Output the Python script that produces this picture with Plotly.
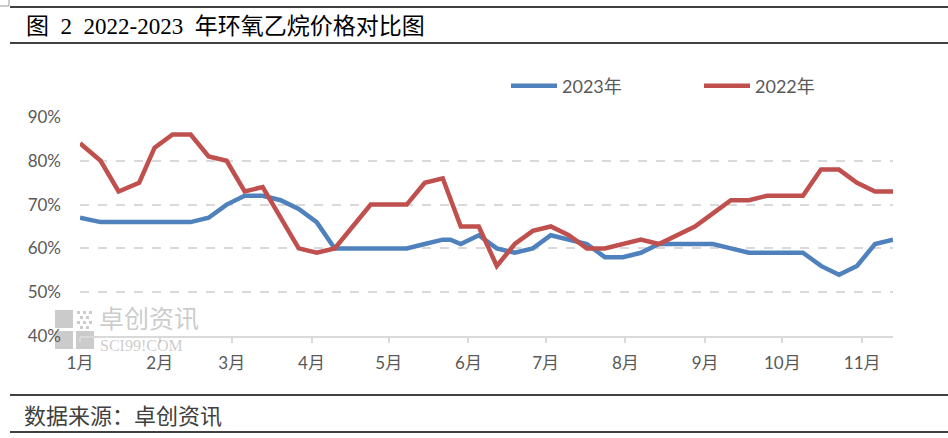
import plotly.graph_objects as go

# ---------------- data ----------------
dates = ["2023-01-01", "2023-01-09", "2023-01-16", "2023-01-24", "2023-01-30",
         "2023-02-06", "2023-02-13", "2023-02-20", "2023-02-27", "2023-03-06",
         "2023-03-13", "2023-03-20", "2023-03-27", "2023-04-03", "2023-04-10",
         "2023-04-17", "2023-04-24", "2023-05-01", "2023-05-08", "2023-05-15",
         "2023-05-22", "2023-05-25", "2023-05-29", "2023-06-05", "2023-06-12",
         "2023-06-19", "2023-06-26", "2023-07-03", "2023-07-10", "2023-07-17",
         "2023-07-24", "2023-07-31", "2023-08-07", "2023-08-14", "2023-08-21",
         "2023-08-28", "2023-09-04", "2023-09-11", "2023-09-18", "2023-09-25",
         "2023-10-02", "2023-10-09", "2023-10-16", "2023-10-23", "2023-10-30",
         "2023-11-06", "2023-11-13"]

values_2023 = [67, 66, 66, 66, 66, 66, 66, 67, 70, 72,
               72, 71, 69, 66, 60, 60, 60, 60, 60, 61,
               62, 62, 61, 63, 60, 59, 60, 63, 62, 61,
               58, 58, 59, 61, 61, 61, 61, 60, 59, 59,
               59, 59, 56, 54, 56, 61, 62]

values_2022 = [84, 80, 73, 75, 83, 86, 86, 81, 80, 73,
               74, 67, 60, 59, 60, 65, 70, 70, 70, 75,
               76, None, 65, 65, 56, 61, 64, 65, 63, 60,
               60, 61, 62, 61, 63, 65, 68, 71, 71, 72,
               72, 72, 78, 78, 75, 73, 73]

month_ticks = ["2023-01-01", "2023-02-01", "2023-03-01", "2023-04-01", "2023-05-01",
               "2023-06-01", "2023-07-01", "2023-08-01", "2023-09-01", "2023-10-01",
               "2023-11-01"]
month_labels = ["1月", "2月", "3月", "4月", "5月", "6月", "7月", "8月", "9月", "10月", "11月"]

series_names = ["2023年", "2022年"]
NB = "\u00a0"
title_text = "图" + NB * 2 + "2" + NB * 2 + "2022-2023" + NB * 2 + "年环氧乙烷价格对比图"
source_text = "数据来源：卓创资讯"

# ---------------- layout geometry ----------------
W, H = 948, 438
L, R, T, B = 80, 893, 117, 336


def px(x):
    return (x - L) / (R - L)


def py(y):
    return (B - y) / (B - T)


BLUE = "#4F81BD"
RED = "#C0504D"
GREY_TXT = "#595959"
FONT = "Lato, Noto Sans CJK SC, sans-serif"

fig = go.Figure()
fig.add_trace(go.Scatter(x=dates, y=values_2023, mode="lines", name=series_names[0],
                         line=dict(color=BLUE, width=4.5), connectgaps=True))
fig.add_trace(go.Scatter(x=dates, y=values_2022, mode="lines", name=series_names[1],
                         line=dict(color=RED, width=4.5), connectgaps=True))

shapes = []
# horizontal rules (title and footer)
for yy in (7, 43, 395, 432):
    shapes.append(dict(type="line", xref="paper", yref="paper",
                       x0=px(10), x1=px(948), y0=py(yy), y1=py(yy),
                       line=dict(color="#000000", width=1.5), layer="above"))
# small crop mark at the top-left corner
shapes.append(dict(type="line", xref="paper", yref="paper",
                   x0=px(9), x1=px(9), y0=py(0), y1=py(6),
                   line=dict(color="#9a9a9a", width=1)))
shapes.append(dict(type="line", xref="paper", yref="paper",
                   x0=px(0), x1=px(9), y0=py(6), y1=py(6),
                   line=dict(color="#9a9a9a", width=1)))

# watermark logo squares
WM = "rgba(160,160,160,0.55)"
for (x0, y0, x1, y1) in [(55, 310, 73, 328), (55, 331, 73, 349), (76, 331, 94, 349)]:
    shapes.append(dict(type="rect", xref="paper", yref="paper",
                       x0=px(x0), x1=px(x1), y0=py(y0), y1=py(y1),
                       fillcolor=WM, line=dict(width=0), layer="below"))
for (cx, cy) in [(77, 311), (83, 311), (89, 311), (80, 316), (86, 316),
                 (77, 321), (83, 321), (89, 321), (80, 326), (86, 326)]:
    shapes.append(dict(type="rect", xref="paper", yref="paper",
                       x0=px(cx), x1=px(cx + 3), y0=py(cy), y1=py(cy + 3),
                       fillcolor=WM, line=dict(width=0), layer="below"))

annotations = [
    dict(text=title_text, xref="paper", yref="paper", x=px(24), y=py(26),
         xanchor="left", yanchor="middle", showarrow=False,
         font=dict(family="Liberation Serif, Noto Sans CJK SC, serif", size=23, color="#000000")),
    dict(text=source_text, xref="paper", yref="paper", x=px(22), y=py(414),
         xanchor="left", yanchor="middle", showarrow=False,
         font=dict(family="Noto Sans CJK SC, sans-serif", size=22, color="#404040")),
    dict(text="卓创资讯", xref="paper", yref="paper", x=px(97), y=py(317),
         xanchor="left", yanchor="middle", showarrow=False,
         font=dict(family="Noto Sans CJK SC, sans-serif", size=25, color=WM)),
    dict(text="SCI99!COM", xref="paper", yref="paper", x=px(98), y=py(345),
         xanchor="left", yanchor="middle", showarrow=False,
         font=dict(family="Liberation Serif, serif", size=16, color=WM)),
]

fig.update_layout(
    width=W, height=H,
    margin=dict(l=L, r=W - R, t=T, b=H - B, pad=0, autoexpand=False),
    paper_bgcolor="white", plot_bgcolor="white",
    font=dict(family=FONT, size=16, color=GREY_TXT),
    showlegend=True,
    legend=dict(orientation="h", x=px(506), y=py(86), xanchor="left", yanchor="middle",
                entrywidth=132, entrywidthmode="pixels", itemwidth=46,
                font=dict(family=FONT, size=18, color=GREY_TXT),
                bgcolor="rgba(0,0,0,0)"),
    shapes=shapes,
    annotations=annotations,
)

fig.update_xaxes(
    type="date", range=[dates[0], dates[-1]],
    tickmode="array", tickvals=month_ticks, ticktext=month_labels,
    ticks="outside", ticklen=5, tickwidth=1.5, tickcolor="#d9d9d9",
    showline=True, linecolor="#d9d9d9", linewidth=1.5,
    showgrid=False, zeroline=False,
    tickfont=dict(family=FONT, size=17, color=GREY_TXT),
    ticklabelstandoff=6,
)
fig.update_yaxes(
    range=[40, 90], dtick=10, tick0=40, ticksuffix="%",
    showgrid=True, gridcolor="#d9d9d9", gridwidth=1.5, griddash="dash",
    showline=False, zeroline=False, ticks="",
    tickfont=dict(family=FONT, size=17, color=GREY_TXT),
    ticklabelstandoff=18,
)

fig.write_html("out.html", config={"displayModeBar": False},
               post_script="document.body.style.margin='0px';")
